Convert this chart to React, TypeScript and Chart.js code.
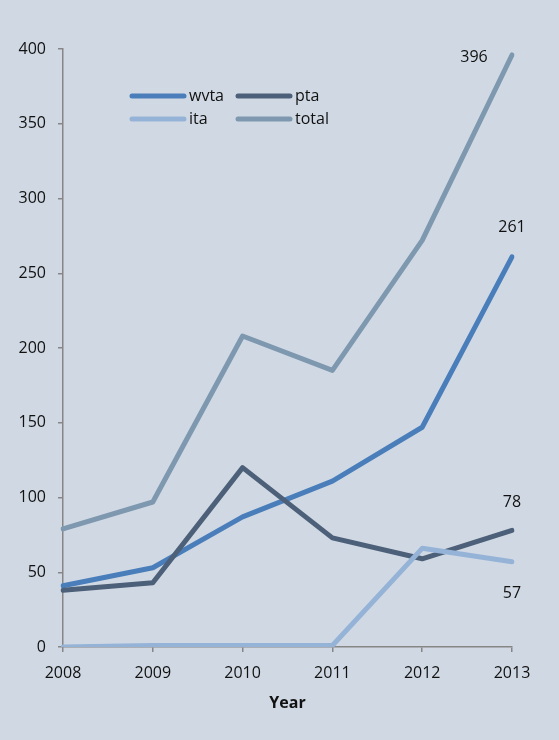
import React, { useEffect, useRef } from "react";
import { Chart, registerables } from "chart.js";

Chart.register(...registerables);

const years = ["2008", "2009", "2010", "2011", "2012", "2013"];
const wvta = [41, 53, 87, 111, 147, 261];
const pta = [38, 43, 120, 73, 59, 78];
const ita = [0, 1, 1, 1, 66, 57];
const total = [79, 97, 208, 185, 272, 396];
const seriesNames = ["wvta", "pta", "ita", "total"];
const seriesColors = ["#4a7ebb", "#4d6079", "#95b3d7", "#7e98b0"];

const FONT = "'Open Sans', 'Liberation Sans', sans-serif";
const BG = "#d0d9e3";

const overlayPlugin = {
  id: "overlay",
  afterDraw(chart: any) {
    const ctx = chart.ctx;
    ctx.save();
    // legend
    const legendPos = [
      { x: 132, y: 96 },
      { x: 238, y: 96 },
      { x: 132, y: 119 },
      { x: 238, y: 119 },
    ];
    ctx.font = `16px ${FONT}`;
    ctx.textBaseline = "middle";
    ctx.textAlign = "left";
    seriesNames.forEach((name, i) => {
      const p = legendPos[i];
      ctx.strokeStyle = seriesColors[i];
      ctx.lineWidth = 5;
      ctx.lineCap = "round";
      ctx.beginPath();
      ctx.moveTo(p.x, p.y);
      ctx.lineTo(p.x + 52, p.y);
      ctx.stroke();
      ctx.fillStyle = "#111";
      ctx.fillText(name, p.x + 57, p.y);
    });
    // data labels at last points
    const last = years.length - 1;
    const xs = chart.scales.x;
    const ys = chart.scales.y;
    const lx = xs.getPixelForValue(last);
    ctx.font = `16px ${FONT}`;
    ctx.fillStyle = "#111";
    ctx.textAlign = "center";
    const labels = [
      { v: total[last], dx: -38, dy: 2 },
      { v: wvta[last], dx: 0, dy: -29 },
      { v: pta[last], dx: 0, dy: -28 },
      { v: ita[last], dx: 0, dy: 32 },
    ];
    labels.forEach((l) => {
      ctx.fillText(String(l.v), lx + l.dx, ys.getPixelForValue(l.v) + l.dy);
    });
    ctx.restore();
  },
};

export default function App() {
  const ref = useRef<HTMLCanvasElement>(null);
  useEffect(() => {
    document.body.style.margin = "0";
    document.body.style.background = BG;
    const data = [wvta, pta, ita, total];
    const chart = new Chart(ref.current!, {
      type: "line",
      data: {
        labels: years,
        datasets: data.map((d, i) => ({
          label: seriesNames[i],
          data: d,
          borderColor: seriesColors[i],
          backgroundColor: seriesColors[i],
          borderWidth: 5,
          pointRadius: 0,
          tension: 0,
          borderCapStyle: "round" as const,
          borderJoinStyle: "round" as const,
          order: 4 - i,
        })),
      },
      options: {
        animation: false,
        responsive: false,
        maintainAspectRatio: false,
        layout: { padding: { left: 0, right: 47, top: 49, bottom: 0 } },
        plugins: {
          legend: { display: false },
          tooltip: { enabled: false },
        },
        scales: {
          x: {
            type: "category",
            offset: false,
            afterFit(scale: any) {
              scale.height = 93;
            },
            border: { display: true, color: "#868686", width: 1.5 },
            grid: {
              drawOnChartArea: false,
              drawTicks: true,
              tickLength: 5,
              color: "#868686",
              lineWidth: 1.5,
            },
            ticks: {
              color: "#111",
              font: { family: FONT, size: 16 },
              padding: 12,
              maxRotation: 0,
            },
            title: {
              display: true,
              text: "Year",
              color: "#111",
              font: { family: FONT, size: 16, weight: "bold" },
              padding: { top: 4, bottom: 27 },
            },
          },
          y: {
            min: 0,
            max: 400,
            afterFit(scale: any) {
              scale.width = 63;
            },
            border: { display: true, color: "#868686", width: 1.5 },
            grid: {
              drawOnChartArea: false,
              drawTicks: true,
              tickLength: 5,
              color: "#868686",
              lineWidth: 1.5,
            },
            ticks: {
              stepSize: 50,
              color: "#111",
              font: { family: FONT, size: 16 },
              padding: 12,
            },
          },
        },
      },
      plugins: [overlayPlugin],
    });
    return () => chart.destroy();
  }, []);
  return (
    <div style={{ width: 559, height: 740, background: BG }}>
      <canvas ref={ref} width={559} height={740} style={{ display: "block" }} />
    </div>
  );
}
